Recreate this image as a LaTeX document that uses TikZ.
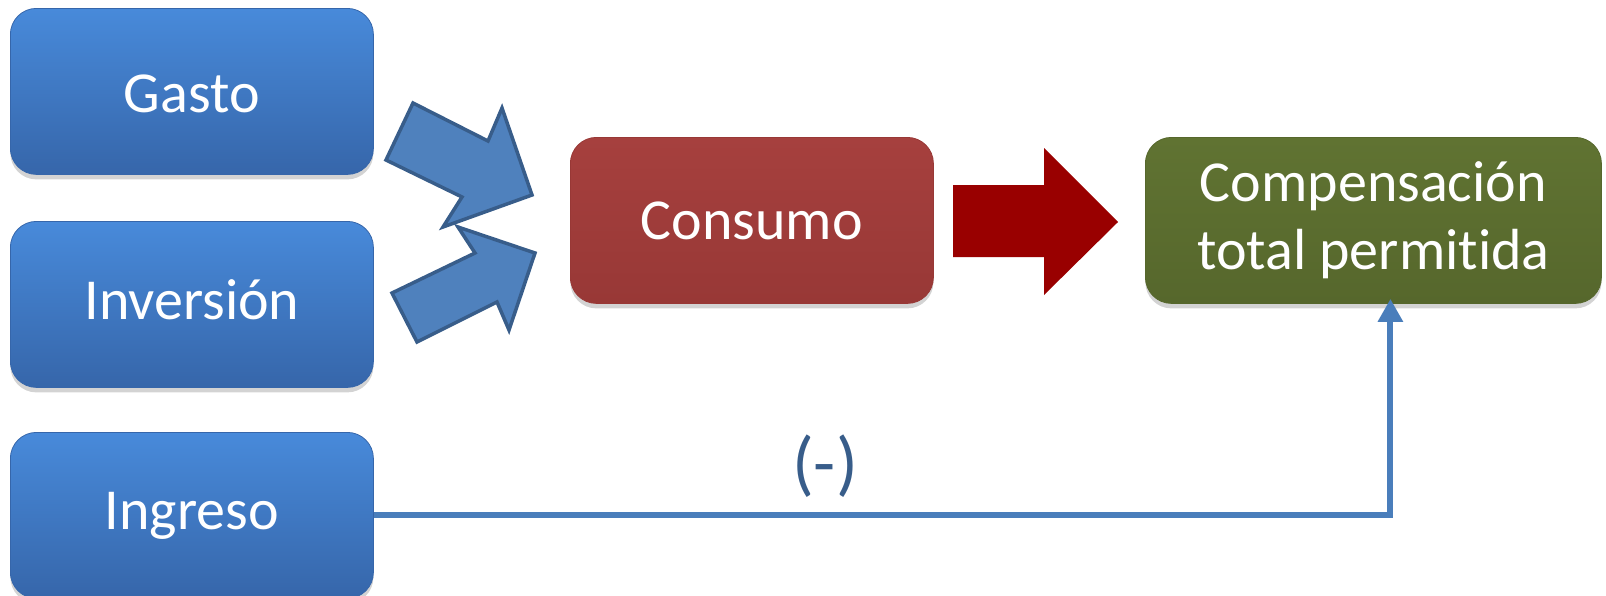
\documentclass[tikz,border=0pt]{standalone}
\usepackage{fontspec}
\setmainfont{Carlito}[Ligatures={NoCommon}]
\usepackage{tikz}
\usetikzlibrary{calc,shadows,arrows.meta}
\definecolor{azulclaro}{RGB}{72,138,218}
\definecolor{azuloscuro}{RGB}{54,102,170}
\definecolor{azulborde}{RGB}{56,93,138}
\definecolor{azulflecha}{RGB}{79,129,189}
\definecolor{linea}{RGB}{74,126,187}
\definecolor{rojoclaro}{RGB}{166,64,62}
\definecolor{rojooscuro}{RGB}{152,56,54}
\definecolor{rojoflecha}{RGB}{153,0,0}
\definecolor{verdeclaro}{RGB}{96,115,50}
\definecolor{verdeoscuro}{RGB}{86,103,44}
\tikzstyle{caja} = [rectangle, rounded corners=26pt, minimum height=166pt, minimum width=363pt, inner sep=0pt, text=white, align=center, font=\fontsize{58}{68}\selectfont, line width=0.8pt, drop shadow={shadow xshift=0pt, shadow yshift=-5pt, opacity=0.35}]
\tikzstyle{azul} = [caja, top color=azulclaro, bottom color=azuloscuro, draw=azuloscuro]
\tikzstyle{roja} = [caja, top color=rojoclaro, bottom color=rojooscuro, draw=rojooscuro]
\tikzstyle{verde} = [caja, top color=verdeclaro, bottom color=verdeoscuro, draw=verdeoscuro]
\tikzstyle{bloque} = [fill=azulflecha, draw=azulborde, line width=3.5pt, line join=miter]
\tikzstyle{conector} = [draw=linea, line width=6pt, -{Triangle[width=24pt,length=23pt]}]

\begin{document}
\begin{tikzpicture}[x=1pt,y=-1pt]
    \useasboundingbox (0,0) rectangle (1606,595);

    \node (gasto) [azul, anchor=north west, text height=43pt] at (10,8) {Gasto};
    \node (inversion) [azul, anchor=north west, text depth=10pt] at (10,221) {Inversión};
    \node (ingreso) [azul, anchor=north west] at (10,432) {Ingreso};

    \node (consumo) [roja, anchor=north west] at (570,137) {Consumo};
    \node (comp) [verde, anchor=north west, minimum width=456pt] at (1145,137) {Compensación\\total permitida};

    % flechas de bloque
    \draw[bloque] (413,103) -- (488,141) -- (502,108) -- (532,195) -- (443,227) -- (462,197) -- (386,160) -- cycle;
    \draw[bloque] (392,293) -- (475,253) -- (458,227) -- (535,253) -- (509,330) -- (497,302) -- (417,342) -- cycle;
    \fill[rojoflecha] (953,185) -- (1044,185) -- (1044,148) -- (1118,222) -- (1044,295) -- (1044,257) -- (953,257) -- cycle;

    \draw[conector] (ingreso.east) -| ($(comp.south) + (17,-5)$);
    \node (signo) [text=azulborde, font=\fontsize{72}{76}\selectfont] at (825,466) {(-)};
\end{tikzpicture}
\end{document}
